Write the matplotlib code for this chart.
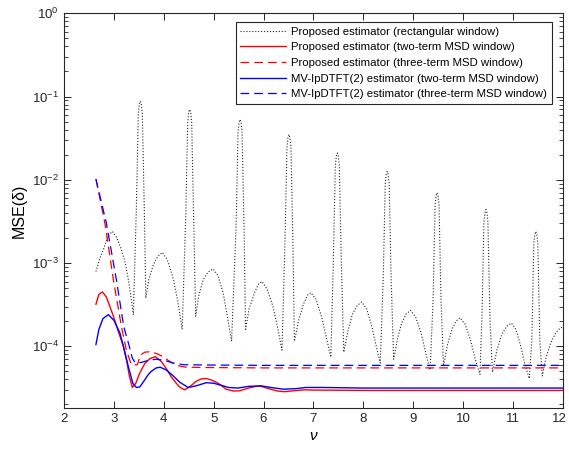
import matplotlib.pyplot as plt
import matplotlib.transforms as mtransforms
from matplotlib.ticker import LogLocator, NullFormatter, FixedLocator

plt.rcParams['font.family'] = ['Liberation Sans', 'DejaVu Sans']
plt.rcParams['mathtext.fontset'] = 'custom'
plt.rcParams['mathtext.rm'] = 'Liberation Sans'
plt.rcParams['mathtext.it'] = 'Liberation Sans:italic'

# MSE(delta) em funcao de nu
nu_rect = [2.64, 2.72, 2.79, 2.88, 2.97, 3.06, 3.15, 3.23, 3.29, 3.34,
           3.39, 3.45, 3.49, 3.51, 3.53, 3.55, 3.57, 3.61, 3.64,
           3.70, 3.79, 3.88, 3.97, 4.07, 4.19, 4.28,
           4.37, 4.44, 4.48, 4.50, 4.52, 4.54, 4.56, 4.60, 4.64,
           4.70, 4.79, 4.89, 4.99, 5.09, 5.19, 5.28,
           5.36, 5.45, 5.49, 5.51, 5.53, 5.55, 5.57, 5.61, 5.64,
           5.71, 5.82, 5.90, 5.97, 6.07, 6.19, 6.29,
           6.37, 6.43, 6.47, 6.49, 6.51, 6.53, 6.55, 6.59, 6.62,
           6.70, 6.80, 6.88, 6.95, 7.05, 7.17, 7.27,
           7.35, 7.40, 7.44, 7.46, 7.48, 7.50, 7.52, 7.56, 7.61,
           7.69, 7.78, 7.88, 7.97, 8.07, 8.17, 8.26,
           8.34, 8.40, 8.44, 8.46, 8.48, 8.50, 8.52, 8.56, 8.61,
           8.69, 8.77, 8.86, 8.95, 9.05, 9.16, 9.26,
           9.34, 9.40, 9.44, 9.46, 9.48, 9.50, 9.52, 9.56, 9.61,
           9.69, 9.78, 9.86, 9.94, 10.04, 10.15, 10.25,
           10.34, 10.38, 10.42, 10.44, 10.46, 10.48, 10.50, 10.54, 10.59,
           10.68, 10.78, 10.88, 10.97, 11.06, 11.15, 11.25,
           11.33, 11.38, 11.42, 11.44, 11.46, 11.48, 11.50, 11.54, 11.59,
           11.67, 11.76, 11.86, 11.95, 12.0]
mse_rect = [7.9e-4, 1.15e-3, 1.45e-3, 2.1e-3, 2.4e-3, 2.0e-3, 1.45e-3, 1.0e-3, 6.3e-4, 4.0e-4,
            2.4e-4, 4.4e-3, 0.062, 0.082, 0.088, 0.082, 0.062, 4.4e-3, 3.8e-4,
            6.3e-4, 9.5e-4, 1.2e-3, 1.34e-3, 1.1e-3, 6.5e-4, 3.5e-4,
            1.6e-4, 3.5e-3, 0.049, 0.065, 0.070, 0.065, 0.049, 3.5e-3, 2.3e-4,
            4.0e-4, 6.3e-4, 7.8e-4, 8.5e-4, 7.0e-4, 4.4e-4, 2.2e-4,
            1.15e-4, 2.7e-3, 0.037, 0.049, 0.053, 0.049, 0.037, 2.7e-3, 1.6e-4,
            2.8e-4, 4.4e-4, 5.6e-4, 6.0e-4, 4.9e-4, 3.0e-4, 1.6e-4,
            9.0e-5, 1.75e-3, 0.0245, 0.032, 0.035, 0.032, 0.0245, 1.75e-3, 1.15e-4,
            2.0e-4, 3.2e-4, 4.1e-4, 4.4e-4, 3.7e-4, 2.2e-4, 1.2e-4,
            7.4e-5, 1.05e-3, 0.0147, 0.0193, 0.021, 0.0193, 0.0147, 1.05e-3, 8.5e-5,
            1.5e-4, 2.4e-4, 3.1e-4, 3.4e-4, 2.8e-4, 1.75e-4, 1.0e-4,
            6.3e-5, 6.3e-4, 8.8e-3, 0.0116, 0.0126, 0.0116, 8.8e-3, 6.3e-4, 7.0e-5,
            1.25e-4, 1.9e-4, 2.45e-4, 2.7e-4, 2.25e-4, 1.45e-4, 8.0e-5,
            5.2e-5, 3.5e-4, 4.9e-3, 6.4e-3, 7.0e-3, 6.4e-3, 4.9e-3, 3.5e-4, 5.8e-5,
            1.05e-4, 1.6e-4, 2.0e-4, 2.2e-4, 1.85e-4, 1.2e-4, 6.8e-5,
            4.6e-5, 2.2e-4, 3.1e-3, 4.0e-3, 4.4e-3, 4.0e-3, 3.1e-3, 2.2e-4, 4.9e-5,
            9.0e-5, 1.4e-4, 1.75e-4, 1.9e-4, 1.6e-4, 1.05e-4, 5.8e-5,
            4.1e-5, 1.2e-4, 1.7e-3, 2.2e-3, 2.4e-3, 2.2e-3, 1.7e-3, 1.2e-4, 4.4e-5,
            7.5e-5, 1.1e-4, 1.45e-4, 1.66e-4, 1.7e-4]

nu_r2 = [2.64, 2.70, 2.77, 2.85, 2.92, 2.99, 3.09, 3.19, 3.26, 3.31, 3.37, 3.44,
         3.52, 3.62, 3.72, 3.83, 3.95, 4.05, 4.15, 4.25, 4.33, 4.42, 4.53, 4.65,
         4.75, 4.85, 4.97, 5.09, 5.25, 5.40, 5.52, 5.70, 5.85, 5.95, 6.10, 6.28,
         6.42, 6.60, 6.82, 7.0, 8.0, 9.0, 10.0, 11.0, 12.0]
mse_r2 = [3.2e-4, 4.2e-4, 4.5e-4, 3.9e-4, 3.0e-4, 2.3e-4, 1.5e-4, 1.0e-4, 6.5e-5, 4.4e-5, 3.2e-5, 3.6e-5,
          4.8e-5, 6.2e-5, 7.1e-5, 7.5e-5, 6.6e-5, 5.4e-5, 4.3e-5, 3.6e-5, 3.2e-5, 3.0e-5, 3.3e-5, 3.8e-5,
          4.05e-5, 4.1e-5, 3.9e-5, 3.6e-5, 3.05e-5, 2.9e-5, 2.92e-5, 3.15e-5, 3.3e-5, 3.3e-5, 3.1e-5, 2.9e-5,
          2.85e-5, 2.92e-5, 3.0e-5, 2.98e-5, 2.95e-5, 2.95e-5, 2.95e-5, 2.95e-5, 2.95e-5]

nu_r3 = [2.64, 2.82, 2.99, 3.15, 3.25, 3.35, 3.47, 3.53, 3.62, 3.72, 3.85, 3.97,
         4.10, 4.25, 4.45, 5.0, 6.0, 7.0, 8.0, 9.0, 10.0, 11.0, 12.0]
mse_r3 = [0.0102, 3.0e-3, 6.3e-4, 1.74e-4, 9.0e-5, 6.0e-5, 6.0e-5, 7.8e-5, 8.5e-5, 8.6e-5, 8.2e-5, 7.6e-5,
          6.7e-5, 5.9e-5, 5.6e-5, 5.55e-5, 5.5e-5, 5.5e-5, 5.5e-5, 5.5e-5, 5.5e-5, 5.5e-5, 5.5e-5]

nu_b2 = [2.64, 2.70, 2.78, 2.89, 3.00, 3.12, 3.20, 3.29, 3.38, 3.45, 3.52, 3.60,
         3.68, 3.75, 3.85, 3.93, 4.05, 4.19, 4.32, 4.49, 4.65, 4.85, 5.00, 5.15,
         5.30, 5.49, 5.70, 5.95, 6.15, 6.40, 6.65, 6.85, 7.2, 8.0, 9.0, 10.0, 11.0, 12.0]
mse_b2 = [1.05e-4, 1.6e-4, 2.15e-4, 2.4e-4, 2.05e-4, 1.45e-4, 9.5e-5, 5.7e-5, 3.6e-5, 3.2e-5, 3.25e-5, 3.8e-5,
          4.5e-5, 5.0e-5, 5.5e-5, 5.6e-5, 5.2e-5, 4.4e-5, 3.7e-5, 3.2e-5, 3.35e-5, 3.65e-5, 3.6e-5, 3.4e-5,
          3.2e-5, 3.15e-5, 3.3e-5, 3.35e-5, 3.2e-5, 3.05e-5, 3.1e-5, 3.2e-5, 3.2e-5, 3.15e-5, 3.15e-5, 3.15e-5, 3.15e-5, 3.15e-5]

nu_b3 = [2.64, 2.85, 3.05, 3.20, 3.29, 3.37, 3.43, 3.55, 3.70, 3.85, 4.0, 4.19,
         4.4, 5.0, 6.0, 7.0, 8.0, 9.0, 10.0, 11.0, 12.0]
mse_b3 = [0.0102, 3.0e-3, 6.3e-4, 1.7e-4, 1.1e-4, 7.2e-5, 6.3e-5, 6.4e-5, 6.8e-5, 7.0e-5, 6.8e-5, 6.3e-5,
          6.0e-5, 5.95e-5, 5.9e-5, 5.9e-5, 5.9e-5, 5.9e-5, 5.9e-5, 5.9e-5, 5.9e-5]

fig = plt.figure(figsize=(5.69, 4.54), dpi=100)
ax = fig.add_axes([0.1125, 0.1007, 0.8765, 0.870])

tracejado = (0, (7, 4))
ax.plot(nu_rect, mse_rect, color='#262626', linestyle=':', lw=0.8,
        label='Proposed estimator (rectangular window)')
ax.plot(nu_r2, mse_r2, color='r', lw=1.0,
        label='Proposed estimator (two-term MSD window)')
ax.plot(nu_r3, mse_r3, color='r', linestyle=tracejado, lw=0.9,
        label='Proposed estimator (three-term MSD window)')
ax.plot(nu_b2, mse_b2, color='b', lw=1.0,
        label='MV-IpDTFT(2) estimator (two-term MSD window)')
ax.plot(nu_b3, mse_b3, color='b', linestyle=tracejado, lw=0.9,
        label='MV-IpDTFT(2) estimator (three-term MSD window)')

ax.set_yscale('log')
ax.set_xlim(2, 12)
ax.set_ylim(1.8e-5, 1)
ax.xaxis.set_major_locator(FixedLocator(range(2, 13)))
ax.yaxis.set_major_locator(LogLocator(base=10))
ax.yaxis.set_minor_locator(LogLocator(base=10, subs=range(2, 10)))
ax.yaxis.set_minor_formatter(NullFormatter())

cinza = '#262626'
for s in ax.spines.values():
    s.set_color(cinza)
    s.set_linewidth(0.8)
ax.tick_params(which='both', direction='in', top=True, right=True, colors=cinza,
               labelcolor='#262626', labelsize=9.5)
ax.tick_params(which='major', length=5, width=0.7)
ax.tick_params(which='minor', length=3, width=0.6)

ax.set_xlabel('ν', fontsize=11, fontstyle='italic', labelpad=3)
ax.set_ylabel('MSE(δ)', fontsize=11.5, labelpad=4)

# o rotulo "12" fica colado na borda direita
fig.canvas.draw()
ultimo = ax.get_xticklabels()[-1]
ultimo.set_transform(ultimo.get_transform() +
                     mtransforms.ScaledTranslation(-3 / 100, 0, fig.dpi_scale_trans))

leg = ax.legend(loc='upper right', bbox_to_anchor=(0.978, 0.978), borderaxespad=0,
                fontsize=8.2, fancybox=False, framealpha=1, edgecolor=cinza,
                handlelength=4.0, labelspacing=0.5, borderpad=0.4, handletextpad=0.5)
leg.get_frame().set_linewidth(0.8)

fig.savefig('out.png', dpi=100)
